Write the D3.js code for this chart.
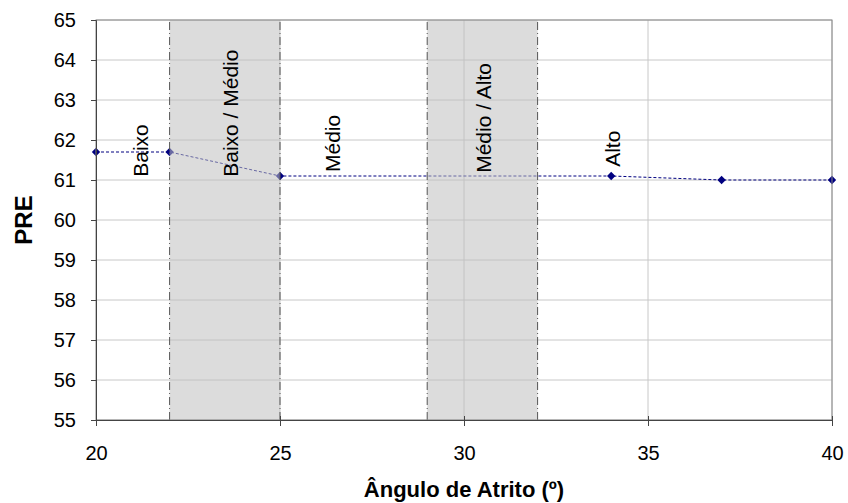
<!DOCTYPE html>
<html>
<head>
<meta charset="utf-8">
<script src="https://cdn.jsdelivr.net/npm/d3@7"></script>
<style>
  body { margin: 0; background: #fff; }
  text { font-family: "Liberation Sans", Arial, sans-serif; }
</style>
</head>
<body>
<svg id="chart" width="848" height="503"></svg>
<script>
const angles = [20, 22, 25, 34, 37, 40];
const pre = [61.7, 61.7, 61.1, 61.1, 61.0, 61.0];

const bandStarts = [22, 29];
const bandEnds = [25, 32];

const zoneNames = ['Baixo', 'Baixo / Médio', 'Médio', 'Médio / Alto', 'Alto'];
const zoneX = [21.41, 23.86, 26.63, 30.73, 34.24];
const zoneY = [61.08, 61.08, 61.2, 61.18, 61.33];

const xTicks = [20, 25, 30, 35, 40];
const yTicks = d3.range(55, 66);

const margin = { top: 20, right: 16, bottom: 83, left: 96 };
const width = 848, height = 503;

const svg = d3.select('#chart');

const x = d3.scaleLinear().domain([20, 40]).range([margin.left, width - margin.right]);
const y = d3.scaleLinear().domain([55, 65]).range([height - margin.bottom, margin.top]);

// grid
svg.append('g')
    .selectAll('line')
    .data(yTicks)
    .join('line')
    .attr('x1', x(20)).attr('x2', x(40))
    .attr('y1', d => y(d)).attr('y2', d => y(d))
    .attr('stroke', '#c8c8c8');

svg.append('g')
    .selectAll('line')
    .data(xTicks.slice(1))
    .join('line')
    .attr('x1', d => x(d)).attr('x2', d => x(d))
    .attr('y1', y(55)).attr('y2', y(65))
    .attr('stroke', '#c8c8c8');

// series line + markers
const line = d3.line().x((d, i) => x(angles[i])).y(d => y(d));

svg.append('path')
    .datum(pre)
    .attr('d', line)
    .attr('fill', 'none')
    .attr('stroke', '#000080')
    .attr('stroke-width', 1)
    .attr('stroke-dasharray', '3,2');

svg.append('g')
    .selectAll('path')
    .data(pre)
    .join('path')
    .attr('transform', (d, i) => `translate(${x(angles[i])},${y(d)})`)
    .attr('d', d3.symbol(d3.symbolDiamond2, 45))
    .attr('fill', '#000080');

// shaded bands (over the series, semi transparent)
const bands = svg.append('g');
bandStarts.forEach((s, i) => {
    bands.append('rect')
        .attr('x', x(s))
        .attr('y', y(65))
        .attr('width', x(bandEnds[i]) - x(s))
        .attr('height', y(55) - y(65))
        .attr('fill', '#c0c0c0')
        .attr('fill-opacity', 0.55);
    [s, bandEnds[i]].forEach(v => {
        bands.append('line')
            .attr('x1', x(v)).attr('x2', x(v))
            .attr('y1', y(55)).attr('y2', y(65))
            .attr('stroke', '#555')
            .attr('stroke-dasharray', '8,3,1,3');
    });
});

// frame
svg.append('rect')
    .attr('x', x(20)).attr('y', y(65))
    .attr('width', x(40) - x(20)).attr('height', y(55) - y(65))
    .attr('fill', 'none')
    .attr('stroke', '#888');

// axes
const yAxis = svg.append('g')
    .attr('transform', `translate(${x(20)},0)`)
    .call(d3.axisLeft(y).tickValues(yTicks).tickSize(5).tickPadding(15).tickFormat(d3.format('d')));
yAxis.select('.domain').attr('stroke', '#444');
yAxis.selectAll('line').attr('stroke', '#444');
yAxis.selectAll('text').attr('font-size', 20).attr('fill', '#000');

const xAxis = svg.append('g')
    .attr('transform', `translate(0,${y(55)})`)
    .call(d3.axisBottom(x).tickValues(xTicks).tickSize(6).tickPadding(20));
xAxis.select('.domain').attr('stroke', '#444');
xAxis.selectAll('line').attr('stroke', '#444').attr('y1', -4);
xAxis.selectAll('text').attr('font-size', 20).attr('fill', '#000');

// zone labels
svg.append('g')
    .selectAll('text')
    .data(zoneNames)
    .join('text')
    .attr('transform', (d, i) => `translate(${x(zoneX[i])},${y(zoneY[i])}) rotate(-90)`)
    .attr('font-size', 21)
    .attr('fill', '#000')
    .text(d => d);

// titles
svg.append('text')
    .attr('x', (x(20) + x(40)) / 2)
    .attr('y', 497)
    .attr('text-anchor', 'middle')
    .attr('font-size', 22)
    .attr('font-weight', 'bold')
    .text('Ângulo de Atrito (º)');

svg.append('text')
    .attr('transform', `translate(32,${(y(55) + y(65)) / 2}) rotate(-90)`)
    .attr('text-anchor', 'middle')
    .attr('font-size', 24)
    .attr('font-weight', 'bold')
    .text('PRE');
</script>
</body>
</html>
